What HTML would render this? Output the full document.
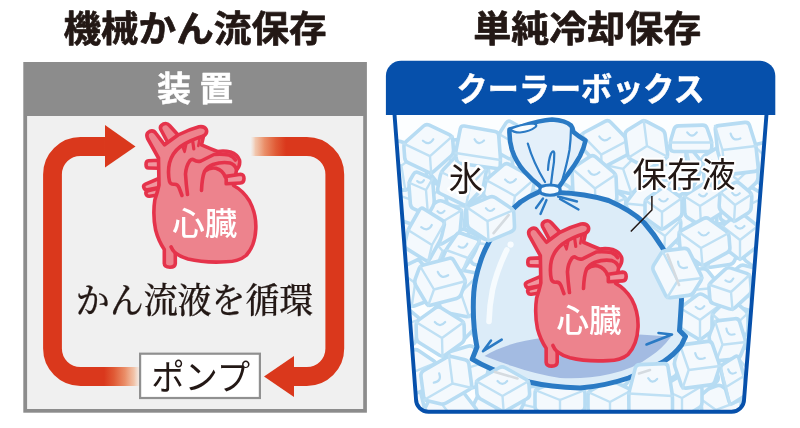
<!DOCTYPE html>
<html lang="ja"><head><meta charset="utf-8"><title>機械かん流保存と単純冷却保存</title>
<style>
html,body{margin:0;padding:0;background:#fff;}
body{width:800px;height:428px;overflow:hidden;font-family:"Liberation Sans","Noto Sans CJK JP",sans-serif;}
svg{display:block;will-change:transform;}
</style></head><body>
<svg width="800" height="428" viewBox="0 0 800 428">
<rect width="800" height="428" fill="#fff"/>
<rect x="23.3" y="62" width="343.6" height="350.7" fill="#8c8c8c"/>
<rect x="27.1" y="116" width="336.1" height="293" fill="#f0f0f0"/>
<text x="157.0" y="100.8" font-size="34" font-weight="700" fill="#fff" font-family='"Liberation Sans","Noto Sans CJK JP",sans-serif' letter-spacing="8.3" stroke="#fff" stroke-width="0.4" stroke-linejoin="round">装置</text>
<defs>
<linearGradient id="gr1" x1="250.5" x2="286" y1="0" y2="0" gradientUnits="userSpaceOnUse"><stop offset="0" stop-color="#f3d2bd" stop-opacity="0"/><stop offset="0.14" stop-color="#f1bfa2" stop-opacity="0.85"/><stop offset="0.4" stop-color="#ea8e68"/><stop offset="0.72" stop-color="#e05a35"/><stop offset="1" stop-color="#da381c"/></linearGradient>
<linearGradient id="gr2" x1="139" x2="104" y1="0" y2="0" gradientUnits="userSpaceOnUse"><stop offset="0" stop-color="#f3d2bd" stop-opacity="0.3"/><stop offset="0.14" stop-color="#f1bfa2" stop-opacity="0.9"/><stop offset="0.4" stop-color="#ea8e68"/><stop offset="0.72" stop-color="#e05a35"/><stop offset="1" stop-color="#da381c"/></linearGradient>
</defs>
<path d="M139 376.5 H80.5 A28 28 0 0 1 52.5 348.5 V174.5 A28 28 0 0 1 80.5 146.5 H106" fill="none" stroke="url(#gr2)" stroke-width="18.8"/>
<path d="M105 125 L135.5 146.5 L105 167.5 Z" fill="#da381c"/>
<path d="M250.5 146.5 H306.8 A28 28 0 0 1 334.8 174.5 V348.5 A28 28 0 0 1 306.8 376.5 H293" fill="none" stroke="url(#gr1)" stroke-width="18.8"/>
<path d="M294 356 L264 376.5 L294 397 Z" fill="#da381c"/>
<rect x="140.1" y="353.7" width="119.8" height="44.3" fill="#fff" stroke="#909090" stroke-width="2.2"/>
<text x="151.2" y="389.6" font-size="35" font-weight="400" fill="#231815" font-family='"Liberation Sans","Noto Sans CJK JP",sans-serif' textLength="99" lengthAdjust="spacingAndGlyphs" >ポンプ</text>
<text x="75.8" y="313.2" font-size="35" font-weight="500" fill="#231815" font-family='"Liberation Serif","Noto Serif CJK JP","Noto Serif CJK SC",serif' textLength="237.5" lengthAdjust="spacingAndGlyphs" stroke="#231815" stroke-width="0.25">かん流液を循環</text>
<text x="63.4" y="41.5" font-size="36.7" font-weight="700" fill="#231815" font-family='"Liberation Sans","Noto Sans CJK JP",sans-serif' textLength="263.2" lengthAdjust="spacingAndGlyphs" stroke="#231815" stroke-width="0.7" stroke-linejoin="round">機械かん流保存</text>
<text x="473.2" y="41.5" font-size="36.7" font-weight="700" fill="#231815" font-family='"Liberation Sans","Noto Sans CJK JP",sans-serif' textLength="228.2" lengthAdjust="spacingAndGlyphs" stroke="#231815" stroke-width="0.7" stroke-linejoin="round">単純冷却保存</text>
<defs><clipPath id="boxclip"><path d="M394.4 113 L416 399.2 A12.5 12.5 0 0 0 428.5 411.7 H731.6 A12.5 12.5 0 0 0 744.1 399.2 L766.6 113 Z"/></clipPath></defs>
<g clip-path="url(#boxclip)">
<rect x="390" y="110" width="380" height="305" fill="#fcfeff"/>
<g fill="#f4f9fd" stroke="#b7dcf3" stroke-width="3.6" stroke-linejoin="round" stroke-linecap="round"><path d="M743.9 393.9 Q745.2 390.6 748.6 390.1 L766.7 387.3 Q770.1 386.7 772.5 389.4 L783.9 402.1 Q786.3 404.7 785.0 407.9 L778.8 423.3 Q777.5 426.5 774.0 427.1 L755.9 429.9 Q752.5 430.4 750.1 427.8 L738.7 415.1 Q736.4 412.5 737.7 409.2 Z"/><path fill="none" stroke="#bfe0f4" stroke-width="2.4" d="M745.2 390.6 L761.3 408.6 L786.3 404.7 M761.3 408.6 L752.5 430.4"/></g>
<g fill="#f4f9fd" stroke="#b7dcf3" stroke-width="3.6" stroke-linejoin="round" stroke-linecap="round"><path d="M693.6 397.6 Q694.1 394.2 697.4 393.0 L716.6 385.8 Q719.9 384.6 722.7 386.7 L738.9 398.3 Q741.7 400.3 741.2 403.8 L738.4 422.2 Q737.8 425.6 734.5 426.8 L715.4 433.9 Q712.1 435.2 709.3 433.1 L693.1 421.5 Q690.3 419.4 690.8 416.0 Z"/><path fill="none" stroke="#bfe0f4" stroke-width="2.4" d="M694.1 394.2 L716.0 409.9 L741.7 400.3 M716.0 409.9 L712.1 435.2"/></g>
<g fill="#f4f9fd" stroke="#b7dcf3" stroke-width="3.6" stroke-linejoin="round" stroke-linecap="round"><path d="M650.6 395.3 Q650.3 391.8 653.3 389.9 L670.9 378.7 Q673.9 376.8 677.1 378.2 L696.5 386.7 Q699.7 388.1 700.0 391.6 L701.8 410.8 Q702.1 414.3 699.1 416.2 L681.5 427.4 Q678.5 429.3 675.3 427.9 L655.9 419.5 Q652.6 418.1 652.3 414.6 Z"/><path fill="none" stroke="#bfe0f4" stroke-width="2.4" d="M650.3 391.8 L676.2 403.1 L699.7 388.1 M676.2 403.1 L678.5 429.3"/></g>
<g fill="#f4f9fd" stroke="#b7dcf3" stroke-width="3.6" stroke-linejoin="round" stroke-linecap="round"><path d="M608.1 396.5 Q609.3 393.2 612.7 392.6 L630.4 389.3 Q633.8 388.6 636.3 391.1 L648.0 403.4 Q650.5 405.9 649.3 409.2 L643.7 424.5 Q642.5 427.7 639.1 428.4 L621.4 431.7 Q618.0 432.3 615.5 429.8 L603.8 417.6 Q601.3 415.1 602.5 411.8 Z"/><path fill="none" stroke="#bfe0f4" stroke-width="2.4" d="M609.3 393.2 L625.9 410.5 L650.5 405.9 M625.9 410.5 L618.0 432.3"/></g>
<g fill="#f4f9fd" stroke="#b7dcf3" stroke-width="3.6" stroke-linejoin="round" stroke-linecap="round"><path d="M558.0 397.9 Q557.8 394.4 560.8 392.6 L578.4 382.0 Q581.4 380.2 584.6 381.7 L603.4 390.4 Q606.6 391.9 606.8 395.4 L607.9 414.3 Q608.1 417.8 605.1 419.6 L587.5 430.2 Q584.5 432.0 581.3 430.5 L562.5 421.7 Q559.3 420.3 559.1 416.8 Z"/><path fill="none" stroke="#bfe0f4" stroke-width="2.4" d="M557.8 394.4 L583.0 406.1 L606.6 391.9 M583.0 406.1 L584.5 432.0"/></g>
<g fill="#f4f9fd" stroke="#b7dcf3" stroke-width="3.6" stroke-linejoin="round" stroke-linecap="round"><path d="M514.6 406.1 Q513.5 402.7 516.0 400.3 L528.4 388.2 Q530.9 385.8 534.3 386.5 L552.1 390.4 Q555.5 391.1 556.6 394.5 L561.7 410.1 Q562.8 413.5 560.3 415.9 L547.9 428.0 Q545.4 430.4 542.0 429.7 L524.2 425.8 Q520.8 425.1 519.7 421.7 Z"/><path fill="none" stroke="#bfe0f4" stroke-width="2.4" d="M513.5 402.7 L538.2 408.1 L555.5 391.1 M538.2 408.1 L545.4 430.4"/></g>
<g fill="#f4f9fd" stroke="#b7dcf3" stroke-width="3.6" stroke-linejoin="round" stroke-linecap="round"><path d="M481.9 387.5 Q483.4 384.3 486.9 384.0 L506.0 382.2 Q509.5 381.9 511.6 384.6 L522.7 398.7 Q524.8 401.4 523.3 404.6 L515.6 420.3 Q514.1 423.4 510.6 423.8 L491.5 425.6 Q488.0 425.9 485.9 423.1 L474.8 409.1 Q472.7 406.3 474.2 403.2 Z"/><path fill="none" stroke="#bfe0f4" stroke-width="2.4" d="M483.4 384.3 L498.7 403.9 L524.8 401.4 M498.7 403.9 L488.0 425.9"/></g>
<g fill="#f4f9fd" stroke="#b7dcf3" stroke-width="3.6" stroke-linejoin="round" stroke-linecap="round"><path d="M431.2 395.5 Q432.8 392.4 436.3 392.1 L457.8 390.1 Q461.3 389.8 463.5 392.5 L475.9 408.5 Q478.1 411.2 476.5 414.4 L467.8 432.1 Q466.3 435.3 462.8 435.6 L441.2 437.6 Q437.7 437.9 435.6 435.1 L423.1 419.2 Q421.0 416.5 422.5 413.3 Z"/><path fill="none" stroke="#bfe0f4" stroke-width="2.4" d="M432.8 392.4 L449.5 413.8 L478.1 411.2 M449.5 413.8 L437.7 437.9"/></g>
<g fill="#f4f9fd" stroke="#b7dcf3" stroke-width="3.6" stroke-linejoin="round" stroke-linecap="round"><path d="M378.6 402.5 Q377.7 399.1 380.4 396.9 L393.6 385.8 Q396.3 383.5 399.6 384.5 L416.9 389.5 Q420.2 390.5 421.0 393.9 L424.8 409.6 Q425.6 413.0 423.0 415.3 L409.8 426.4 Q407.1 428.6 403.8 427.7 L386.5 422.7 Q383.2 421.7 382.3 418.3 Z"/><path fill="none" stroke="#bfe0f4" stroke-width="2.4" d="M377.7 399.1 L401.7 406.1 L420.2 390.5 M401.7 406.1 L407.1 428.6"/></g>
<g fill="#f4f9fd" stroke="#b7dcf3" stroke-width="3.6" stroke-linejoin="round" stroke-linecap="round"><path d="M764.3 364.7 Q762.9 361.5 765.1 358.8 L777.7 343.6 Q780.0 340.9 783.5 341.3 L804.5 343.8 Q807.9 344.2 809.4 347.4 L817.3 365.0 Q818.8 368.2 816.5 370.9 L803.9 386.1 Q801.6 388.8 798.2 388.4 L777.2 385.9 Q773.7 385.4 772.2 382.3 Z"/><path fill="none" stroke="#bfe0f4" stroke-width="2.4" d="M762.9 361.5 L790.8 364.8 L807.9 344.2 M790.8 364.8 L801.6 388.8"/></g>
<g fill="#f4f9fd" stroke="#b7dcf3" stroke-width="3.6" stroke-linejoin="round" stroke-linecap="round"><path d="M729.7 353.9 Q730.9 350.7 734.4 350.1 L752.8 346.8 Q756.3 346.2 758.7 348.7 L770.8 361.6 Q773.2 364.1 771.9 367.4 L765.9 383.3 Q764.7 386.5 761.3 387.2 L742.8 390.4 Q739.4 391.0 737.0 388.5 L724.9 375.6 Q722.5 373.1 723.7 369.8 Z"/><path fill="none" stroke="#bfe0f4" stroke-width="2.4" d="M730.9 350.7 L747.8 368.6 L773.2 364.1 M747.8 368.6 L739.4 391.0"/></g>
<g fill="#f4f9fd" stroke="#b7dcf3" stroke-width="3.6" stroke-linejoin="round" stroke-linecap="round"><path d="M666.9 368.2 Q666.1 364.8 668.7 362.6 L683.8 349.9 Q686.5 347.6 689.9 348.6 L709.6 354.3 Q712.9 355.3 713.7 358.7 L718.1 376.8 Q718.9 380.2 716.2 382.4 L701.2 395.1 Q698.5 397.4 695.1 396.4 L675.4 390.7 Q672.1 389.7 671.2 386.3 Z"/><path fill="none" stroke="#bfe0f4" stroke-width="2.4" d="M666.1 364.8 L692.5 372.5 L712.9 355.3 M692.5 372.5 L698.5 397.4"/></g>
<g fill="#f4f9fd" stroke="#b7dcf3" stroke-width="3.6" stroke-linejoin="round" stroke-linecap="round"><path d="M633.7 354.4 Q633.8 350.9 636.9 349.4 L653.0 341.5 Q656.1 339.9 659.2 341.6 L674.6 350.4 Q677.7 352.2 677.5 355.7 L677.0 372.0 Q676.9 375.5 673.7 377.0 L657.7 384.9 Q654.6 386.5 651.5 384.8 L636.1 376.0 Q633.0 374.2 633.1 370.7 Z"/><path fill="none" stroke="#bfe0f4" stroke-width="2.4" d="M633.8 350.9 L655.3 363.2 L677.7 352.2 M655.3 363.2 L654.6 386.5"/></g>
<g fill="#f4f9fd" stroke="#b7dcf3" stroke-width="3.6" stroke-linejoin="round" stroke-linecap="round"><path d="M591.0 348.3 Q592.4 345.1 595.9 344.6 L616.3 341.9 Q619.7 341.5 622.0 344.1 L634.5 358.8 Q636.8 361.5 635.4 364.7 L627.9 381.8 Q626.5 385.0 623.0 385.5 L602.6 388.2 Q599.2 388.6 596.9 386.0 L584.4 371.3 Q582.1 368.7 583.5 365.5 Z"/><path fill="none" stroke="#bfe0f4" stroke-width="2.4" d="M592.4 345.1 L609.5 365.1 L636.8 361.5 M609.5 365.1 L599.2 388.6"/></g>
<g fill="#f4f9fd" stroke="#b7dcf3" stroke-width="3.6" stroke-linejoin="round" stroke-linecap="round"><path d="M541.0 354.9 Q542.1 351.5 545.5 350.8 L564.3 346.8 Q567.8 346.1 570.2 348.6 L583.2 361.4 Q585.7 363.8 584.6 367.2 L579.1 383.7 Q578.0 387.0 574.5 387.7 L555.7 391.7 Q552.3 392.4 549.8 389.9 L536.9 377.1 Q534.4 374.7 535.5 371.4 Z"/><path fill="none" stroke="#bfe0f4" stroke-width="2.4" d="M542.1 351.5 L560.0 369.3 L585.7 363.8 M560.0 369.3 L552.3 392.4"/></g>
<g fill="#f4f9fd" stroke="#b7dcf3" stroke-width="3.6" stroke-linejoin="round" stroke-linecap="round"><path d="M491.3 359.8 Q491.5 356.3 494.6 354.8 L511.1 346.9 Q514.2 345.3 517.2 347.1 L532.9 356.2 Q535.9 357.9 535.8 361.4 L535.0 378.0 Q534.9 381.5 531.7 383.1 L515.3 391.0 Q512.2 392.5 509.1 390.8 L493.5 381.7 Q490.5 379.9 490.6 376.4 Z"/><path fill="none" stroke="#bfe0f4" stroke-width="2.4" d="M491.5 356.3 L513.2 368.9 L535.9 357.9 M513.2 368.9 L512.2 392.5"/></g>
<g fill="#f4f9fd" stroke="#b7dcf3" stroke-width="3.6" stroke-linejoin="round" stroke-linecap="round"><path d="M446.2 356.0 Q446.9 352.6 450.3 351.6 L467.9 346.2 Q471.2 345.2 473.9 347.4 L487.6 358.7 Q490.3 360.9 489.5 364.3 L485.9 380.5 Q485.1 384.0 481.7 385.0 L464.1 390.3 Q460.8 391.3 458.1 389.1 L444.4 377.8 Q441.7 375.6 442.5 372.2 Z"/><path fill="none" stroke="#bfe0f4" stroke-width="2.4" d="M446.9 352.6 L466.0 368.3 L490.3 360.9 M466.0 368.3 L460.8 391.3"/></g>
<g fill="#f4f9fd" stroke="#b7dcf3" stroke-width="3.6" stroke-linejoin="round" stroke-linecap="round"><path d="M392.0 361.7 Q392.4 358.2 395.7 356.9 L412.6 350.1 Q415.9 348.8 418.8 350.7 L433.6 360.7 Q436.5 362.7 436.1 366.2 L434.1 382.6 Q433.7 386.1 430.5 387.4 L413.5 394.3 Q410.3 395.6 407.4 393.6 L392.5 383.6 Q389.6 381.7 390.0 378.2 Z"/><path fill="none" stroke="#bfe0f4" stroke-width="2.4" d="M392.4 358.2 L413.1 372.2 L436.5 362.7 M413.1 372.2 L410.3 395.6"/></g>
<g fill="#f4f9fd" stroke="#b7dcf3" stroke-width="3.6" stroke-linejoin="round" stroke-linecap="round"><path d="M740.9 326.4 Q739.9 323.1 742.4 320.7 L755.5 307.8 Q758.0 305.4 761.5 306.1 L780.4 310.3 Q783.8 311.0 784.9 314.3 L790.4 331.0 Q791.4 334.4 788.9 336.8 L775.8 349.7 Q773.3 352.1 769.8 351.4 L750.9 347.2 Q747.5 346.5 746.4 343.2 Z"/><path fill="none" stroke="#bfe0f4" stroke-width="2.4" d="M739.9 323.1 L765.7 328.7 L783.8 311.0 M765.7 328.7 L773.3 352.1"/></g>
<g fill="#f4f9fd" stroke="#b7dcf3" stroke-width="3.6" stroke-linejoin="round" stroke-linecap="round"><path d="M693.7 327.7 Q692.9 324.3 695.5 322.0 L708.4 310.7 Q711.1 308.4 714.4 309.3 L731.7 314.1 Q735.1 315.0 736.0 318.4 L740.1 334.1 Q740.9 337.4 738.3 339.7 L725.4 351.0 Q722.7 353.3 719.4 352.4 L702.1 347.7 Q698.7 346.7 697.8 343.3 Z"/><path fill="none" stroke="#bfe0f4" stroke-width="2.4" d="M692.9 324.3 L716.9 330.9 L735.1 315.0 M716.9 330.9 L722.7 353.3"/></g>
<g fill="#f4f9fd" stroke="#b7dcf3" stroke-width="3.6" stroke-linejoin="round" stroke-linecap="round"><path d="M649.9 331.1 Q648.9 327.8 651.4 325.3 L664.9 312.5 Q667.4 310.0 670.8 310.8 L689.9 315.1 Q693.3 315.9 694.4 319.2 L699.7 336.2 Q700.8 339.5 698.3 341.9 L684.8 354.8 Q682.3 357.3 678.9 356.5 L659.8 352.2 Q656.3 351.4 655.3 348.0 Z"/><path fill="none" stroke="#bfe0f4" stroke-width="2.4" d="M648.9 327.8 L674.8 333.6 L693.3 315.9 M674.8 333.6 L682.3 357.3"/></g>
<g fill="#f4f9fd" stroke="#b7dcf3" stroke-width="3.6" stroke-linejoin="round" stroke-linecap="round"><path d="M605.2 313.0 Q605.9 309.5 609.2 308.4 L628.2 302.0 Q631.5 300.8 634.2 303.0 L649.7 314.8 Q652.5 316.9 651.8 320.3 L648.5 338.2 Q647.9 341.6 644.6 342.8 L625.6 349.2 Q622.3 350.4 619.5 348.2 L604.0 336.4 Q601.2 334.3 601.9 330.9 Z"/><path fill="none" stroke="#bfe0f4" stroke-width="2.4" d="M605.9 309.5 L626.9 325.6 L652.5 316.9 M626.9 325.6 L622.3 350.4"/></g>
<g fill="#f4f9fd" stroke="#b7dcf3" stroke-width="3.6" stroke-linejoin="round" stroke-linecap="round"><path d="M562.5 324.7 Q562.0 321.2 564.9 319.2 L579.4 309.1 Q582.3 307.1 585.5 308.4 L602.4 314.9 Q605.7 316.2 606.2 319.7 L608.4 335.9 Q608.8 339.4 606.0 341.4 L591.4 351.5 Q588.5 353.5 585.3 352.2 L568.4 345.7 Q565.1 344.4 564.7 340.9 Z"/><path fill="none" stroke="#bfe0f4" stroke-width="2.4" d="M562.0 321.2 L585.4 330.3 L605.7 316.2 M585.4 330.3 L588.5 353.5"/></g>
<g fill="#f4f9fd" stroke="#b7dcf3" stroke-width="3.6" stroke-linejoin="round" stroke-linecap="round"><path d="M515.3 314.5 Q516.2 311.2 519.5 310.2 L539.5 304.7 Q542.9 303.8 545.5 306.0 L560.6 319.1 Q563.2 321.4 562.4 324.8 L557.7 343.0 Q556.8 346.4 553.4 347.3 L533.5 352.8 Q530.1 353.8 527.4 351.5 L512.4 338.4 Q509.7 336.2 510.6 332.8 Z"/><path fill="none" stroke="#bfe0f4" stroke-width="2.4" d="M516.2 311.2 L536.5 328.8 L563.2 321.4 M536.5 328.8 L530.1 353.8"/></g>
<g fill="#f4f9fd" stroke="#b7dcf3" stroke-width="3.6" stroke-linejoin="round" stroke-linecap="round"><path d="M476.0 315.0 Q476.6 311.6 480.0 310.4 L497.8 304.3 Q501.1 303.1 503.9 305.2 L518.5 316.3 Q521.3 318.4 520.6 321.8 L517.6 338.6 Q517.0 342.1 513.7 343.2 L495.9 349.4 Q492.5 350.5 489.8 348.4 L475.2 337.4 Q472.4 335.3 473.0 331.8 Z"/><path fill="none" stroke="#bfe0f4" stroke-width="2.4" d="M476.6 311.6 L496.8 326.8 L521.3 318.4 M496.8 326.8 L492.5 350.5"/></g>
<g fill="#f4f9fd" stroke="#b7dcf3" stroke-width="3.6" stroke-linejoin="round" stroke-linecap="round"><path d="M427.2 320.7 Q426.0 317.4 428.4 314.9 L440.6 302.3 Q443.1 299.8 446.5 300.5 L464.7 304.0 Q468.1 304.6 469.3 307.9 L474.9 323.7 Q476.1 327.0 473.7 329.5 L461.5 342.0 Q459.1 344.5 455.6 343.9 L437.4 340.4 Q434.0 339.7 432.8 336.4 Z"/><path fill="none" stroke="#bfe0f4" stroke-width="2.4" d="M426.0 317.4 L451.1 322.2 L468.1 304.6 M451.1 322.2 L459.1 344.5"/></g>
<g fill="#f4f9fd" stroke="#b7dcf3" stroke-width="3.6" stroke-linejoin="round" stroke-linecap="round"><path d="M374.3 314.0 Q375.1 310.6 378.4 309.6 L397.3 303.8 Q400.6 302.8 403.3 305.0 L418.0 317.1 Q420.7 319.3 419.9 322.7 L416.0 340.1 Q415.3 343.5 411.9 344.5 L393.1 350.3 Q389.7 351.3 387.0 349.1 L372.4 337.0 Q369.7 334.8 370.4 331.4 Z"/><path fill="none" stroke="#bfe0f4" stroke-width="2.4" d="M375.1 310.6 L395.2 327.0 L420.7 319.3 M395.2 327.0 L389.7 351.3"/></g>
<g fill="#f4f9fd" stroke="#b7dcf3" stroke-width="3.6" stroke-linejoin="round" stroke-linecap="round"><path d="M763.7 287.3 Q763.1 283.8 765.9 281.7 L782.2 269.8 Q785.1 267.8 788.4 269.0 L807.9 276.0 Q811.1 277.2 811.7 280.7 L814.7 299.3 Q815.3 302.7 812.5 304.8 L796.2 316.7 Q793.3 318.8 790.0 317.6 L770.5 310.5 Q767.2 309.3 766.7 305.9 Z"/><path fill="none" stroke="#bfe0f4" stroke-width="2.4" d="M763.1 283.8 L789.2 293.3 L811.1 277.2 M789.2 293.3 L793.3 318.8"/></g>
<g fill="#f4f9fd" stroke="#b7dcf3" stroke-width="3.6" stroke-linejoin="round" stroke-linecap="round"><path d="M723.2 284.4 Q722.3 281.0 725.0 278.7 L738.7 266.8 Q741.4 264.5 744.8 265.4 L763.1 270.4 Q766.5 271.4 767.4 274.8 L771.7 291.4 Q772.5 294.8 769.9 297.1 L756.1 309.1 Q753.5 311.4 750.1 310.4 L731.8 305.4 Q728.4 304.5 727.5 301.1 Z"/><path fill="none" stroke="#bfe0f4" stroke-width="2.4" d="M722.3 281.0 L747.4 287.9 L766.5 271.4 M747.4 287.9 L753.5 311.4"/></g>
<g fill="#f4f9fd" stroke="#b7dcf3" stroke-width="3.6" stroke-linejoin="round" stroke-linecap="round"><path d="M679.1 274.0 Q680.6 270.8 684.1 270.5 L702.5 268.7 Q706.0 268.3 708.1 271.1 L718.8 284.6 Q721.0 287.3 719.5 290.5 L712.1 305.6 Q710.6 308.7 707.1 309.1 L688.8 310.9 Q685.3 311.2 683.1 308.5 L672.5 295.0 Q670.3 292.2 671.8 289.1 Z"/><path fill="none" stroke="#bfe0f4" stroke-width="2.4" d="M680.6 270.8 L695.6 289.8 L721.0 287.3 M695.6 289.8 L685.3 311.2"/></g>
<g fill="#f4f9fd" stroke="#b7dcf3" stroke-width="3.6" stroke-linejoin="round" stroke-linecap="round"><path d="M622.4 287.2 Q621.0 284.0 623.2 281.3 L635.9 266.2 Q638.2 263.5 641.6 264.0 L662.5 266.6 Q666.0 267.0 667.4 270.2 L675.2 287.7 Q676.6 290.9 674.4 293.6 L661.7 308.6 Q659.4 311.3 656.0 310.9 L635.1 308.3 Q631.6 307.9 630.2 304.7 Z"/><path fill="none" stroke="#bfe0f4" stroke-width="2.4" d="M621.0 284.0 L648.8 287.4 L666.0 267.0 M648.8 287.4 L659.4 311.3"/></g>
<g fill="#f4f9fd" stroke="#b7dcf3" stroke-width="3.6" stroke-linejoin="round" stroke-linecap="round"><path d="M577.0 280.4 Q576.9 276.9 579.9 275.1 L597.3 265.1 Q600.4 263.3 603.5 264.8 L621.7 273.7 Q624.9 275.3 625.0 278.8 L625.7 297.3 Q625.9 300.8 622.8 302.5 L605.4 312.6 Q602.4 314.3 599.2 312.8 L581.0 303.9 Q577.9 302.4 577.7 298.9 Z"/><path fill="none" stroke="#bfe0f4" stroke-width="2.4" d="M576.9 276.9 L601.4 288.8 L624.9 275.3 M601.4 288.8 L602.4 314.3"/></g>
<g fill="#f4f9fd" stroke="#b7dcf3" stroke-width="3.6" stroke-linejoin="round" stroke-linecap="round"><path d="M530.4 281.7 Q530.5 278.2 533.6 276.6 L551.0 267.8 Q554.2 266.3 557.2 268.0 L574.1 277.5 Q577.2 279.2 577.1 282.7 L576.6 300.5 Q576.5 304.0 573.4 305.6 L556.0 314.3 Q552.9 315.9 549.8 314.2 L532.9 304.7 Q529.8 303.0 529.9 299.5 Z"/><path fill="none" stroke="#bfe0f4" stroke-width="2.4" d="M530.5 278.2 L553.5 291.1 L577.2 279.2 M553.5 291.1 L552.9 315.9"/></g>
<g fill="#f4f9fd" stroke="#b7dcf3" stroke-width="3.6" stroke-linejoin="round" stroke-linecap="round"><path d="M499.5 267.5 Q500.9 264.3 504.3 263.7 L525.7 260.6 Q529.2 260.0 531.5 262.7 L545.0 277.9 Q547.3 280.5 546.0 283.7 L538.5 301.9 Q537.1 305.2 533.7 305.7 L512.3 308.9 Q508.8 309.4 506.5 306.8 L493.0 291.5 Q490.7 288.9 492.0 285.7 Z"/><path fill="none" stroke="#bfe0f4" stroke-width="2.4" d="M500.9 264.3 L519.0 284.7 L547.3 280.5 M519.0 284.7 L508.8 309.4"/></g>
<g fill="#f4f9fd" stroke="#b7dcf3" stroke-width="3.6" stroke-linejoin="round" stroke-linecap="round"><path d="M434.6 290.5 Q433.5 287.2 436.0 284.7 L449.9 270.7 Q452.4 268.2 455.8 268.9 L476.2 273.1 Q479.6 273.8 480.8 277.1 L486.9 295.0 Q488.0 298.3 485.5 300.8 L471.6 314.8 Q469.1 317.2 465.7 316.5 L445.3 312.4 Q441.9 311.7 440.7 308.4 Z"/><path fill="none" stroke="#bfe0f4" stroke-width="2.4" d="M433.5 287.2 L460.7 292.7 L479.6 273.8 M460.7 292.7 L469.1 317.2"/></g>
<g fill="#f4f9fd" stroke="#b7dcf3" stroke-width="3.6" stroke-linejoin="round" stroke-linecap="round"><path d="M394.0 271.6 Q394.5 268.2 397.8 266.9 L415.6 260.3 Q418.8 259.1 421.7 261.1 L436.7 271.9 Q439.6 273.9 439.1 277.4 L436.5 294.4 Q436.0 297.9 432.7 299.1 L414.9 305.7 Q411.6 307.0 408.8 304.9 L393.7 294.1 Q390.9 292.1 391.4 288.6 Z"/><path fill="none" stroke="#bfe0f4" stroke-width="2.4" d="M394.5 268.2 L415.2 283.0 L439.6 273.9 M415.2 283.0 L411.6 307.0"/></g>
<g fill="#f4f9fd" stroke="#b7dcf3" stroke-width="3.6" stroke-linejoin="round" stroke-linecap="round"><path d="M746.6 238.4 Q747.2 235.0 750.5 233.8 L768.5 227.2 Q771.8 226.1 774.6 228.1 L789.7 239.2 Q792.5 241.2 791.9 244.7 L789.1 261.8 Q788.6 265.3 785.3 266.5 L767.2 273.0 Q764.0 274.2 761.1 272.1 L746.1 261.1 Q743.3 259.0 743.8 255.6 Z"/><path fill="none" stroke="#bfe0f4" stroke-width="2.4" d="M747.2 235.0 L767.9 250.1 L792.5 241.2 M767.9 250.1 L764.0 274.2"/></g>
<g fill="#f4f9fd" stroke="#b7dcf3" stroke-width="3.6" stroke-linejoin="round" stroke-linecap="round"><path d="M699.1 229.8 Q700.5 226.6 704.0 226.1 L722.8 223.4 Q726.3 222.9 728.6 225.6 L740.3 239.0 Q742.6 241.6 741.2 244.9 L734.5 260.8 Q733.2 264.0 729.7 264.5 L710.8 267.2 Q707.4 267.6 705.1 265.0 L693.4 251.6 Q691.1 248.9 692.4 245.7 Z"/><path fill="none" stroke="#bfe0f4" stroke-width="2.4" d="M700.5 226.6 L716.8 245.3 L742.6 241.6 M716.8 245.3 L707.4 267.6"/></g>
<g fill="#f4f9fd" stroke="#b7dcf3" stroke-width="3.6" stroke-linejoin="round" stroke-linecap="round"><path d="M659.4 236.5 Q659.5 233.1 662.7 231.5 L680.9 222.7 Q684.0 221.2 687.1 222.9 L704.4 233.0 Q707.5 234.8 707.3 238.3 L706.5 256.8 Q706.4 260.2 703.2 261.8 L685.0 270.6 Q681.9 272.1 678.8 270.4 L661.5 260.3 Q658.4 258.5 658.6 255.0 Z"/><path fill="none" stroke="#bfe0f4" stroke-width="2.4" d="M659.5 233.1 L682.9 246.6 L707.5 234.8 M682.9 246.6 L681.9 272.1"/></g>
<g fill="#f4f9fd" stroke="#b7dcf3" stroke-width="3.6" stroke-linejoin="round" stroke-linecap="round"><path d="M601.0 244.3 Q599.5 241.2 601.7 238.5 L614.2 223.0 Q616.4 220.3 619.9 220.7 L641.0 223.0 Q644.5 223.3 646.0 226.5 L654.2 244.1 Q655.7 247.2 653.5 250.0 L641.0 265.4 Q638.8 268.1 635.3 267.7 L614.2 265.5 Q610.7 265.1 609.2 261.9 Z"/><path fill="none" stroke="#bfe0f4" stroke-width="2.4" d="M599.5 241.2 L627.6 244.2 L644.5 223.3 M627.6 244.2 L638.8 268.1"/></g>
<g fill="#f4f9fd" stroke="#b7dcf3" stroke-width="3.6" stroke-linejoin="round" stroke-linecap="round"><path d="M563.0 239.4 Q563.9 236.0 567.2 235.0 L584.7 230.2 Q588.1 229.3 590.7 231.6 L603.8 243.0 Q606.5 245.3 605.6 248.7 L601.5 264.5 Q600.6 267.9 597.3 268.8 L579.8 273.6 Q576.4 274.6 573.8 272.3 L560.7 260.9 Q558.0 258.6 558.9 255.2 Z"/><path fill="none" stroke="#bfe0f4" stroke-width="2.4" d="M563.9 236.0 L582.3 251.9 L606.5 245.3 M582.3 251.9 L576.4 274.6"/></g>
<g fill="#f4f9fd" stroke="#b7dcf3" stroke-width="3.6" stroke-linejoin="round" stroke-linecap="round"><path d="M526.6 238.1 Q527.9 234.8 531.4 234.3 L550.3 231.2 Q553.7 230.6 556.1 233.2 L568.3 246.5 Q570.6 249.0 569.4 252.3 L563.0 268.5 Q561.7 271.7 558.3 272.3 L539.4 275.4 Q535.9 276.0 533.5 273.4 L521.4 260.1 Q519.0 257.5 520.3 254.3 Z"/><path fill="none" stroke="#bfe0f4" stroke-width="2.4" d="M527.9 234.8 L544.8 253.3 L570.6 249.0 M544.8 253.3 L535.9 276.0"/></g>
<g fill="#f4f9fd" stroke="#b7dcf3" stroke-width="3.6" stroke-linejoin="round" stroke-linecap="round"><path d="M463.7 244.0 Q462.3 240.7 464.7 238.1 L477.3 223.7 Q479.6 221.1 483.1 221.6 L503.3 224.5 Q506.7 225.0 508.1 228.2 L515.3 245.4 Q516.6 248.6 514.3 251.2 L501.7 265.6 Q499.3 268.2 495.9 267.7 L475.7 264.8 Q472.2 264.3 470.9 261.1 Z"/><path fill="none" stroke="#bfe0f4" stroke-width="2.4" d="M462.3 240.7 L489.5 244.7 L506.7 225.0 M489.5 244.7 L499.3 268.2"/></g>
<g fill="#f4f9fd" stroke="#b7dcf3" stroke-width="3.6" stroke-linejoin="round" stroke-linecap="round"><path d="M423.4 234.0 Q424.8 230.7 428.3 230.2 L449.4 227.1 Q452.8 226.6 455.1 229.2 L468.4 244.2 Q470.7 246.9 469.4 250.1 L461.9 268.0 Q460.6 271.3 457.1 271.8 L436.0 274.9 Q432.6 275.4 430.2 272.8 L417.0 257.7 Q414.7 255.1 416.0 251.9 Z"/><path fill="none" stroke="#bfe0f4" stroke-width="2.4" d="M424.8 230.7 L442.7 251.0 L470.7 246.9 M442.7 251.0 L432.6 275.4"/></g>
<g fill="#f4f9fd" stroke="#b7dcf3" stroke-width="3.6" stroke-linejoin="round" stroke-linecap="round"><path d="M380.8 232.1 Q381.0 228.6 384.1 227.1 L401.8 218.6 Q405.0 217.1 408.0 218.9 L424.8 228.8 Q427.8 230.5 427.7 234.0 L426.8 251.9 Q426.6 255.4 423.5 256.9 L405.8 265.4 Q402.6 266.9 399.6 265.1 L382.8 255.3 Q379.8 253.5 379.9 250.0 Z"/><path fill="none" stroke="#bfe0f4" stroke-width="2.4" d="M381.0 228.6 L403.8 242.0 L427.8 230.5 M403.8 242.0 L402.6 266.9"/></g>
<g fill="#f4f9fd" stroke="#b7dcf3" stroke-width="3.6" stroke-linejoin="round" stroke-linecap="round"><path d="M765.6 198.9 Q764.8 195.5 767.5 193.3 L782.9 180.6 Q785.5 178.4 788.9 179.4 L808.7 185.3 Q812.1 186.3 812.9 189.7 L817.1 208.0 Q817.9 211.4 815.2 213.6 L799.8 226.3 Q797.1 228.6 793.8 227.6 L774.0 221.6 Q770.6 220.6 769.8 217.2 Z"/><path fill="none" stroke="#bfe0f4" stroke-width="2.4" d="M764.8 195.5 L791.3 203.5 L812.1 186.3 M791.3 203.5 L797.1 228.6"/></g>
<g fill="#f4f9fd" stroke="#b7dcf3" stroke-width="3.6" stroke-linejoin="round" stroke-linecap="round"><path d="M720.7 198.2 Q720.8 194.7 723.9 193.2 L741.1 184.7 Q744.2 183.2 747.3 184.9 L763.8 194.4 Q766.8 196.1 766.7 199.6 L766.1 217.1 Q766.0 220.6 762.8 222.1 L745.6 230.5 Q742.5 232.1 739.5 230.4 L723.0 220.9 Q719.9 219.2 720.0 215.7 Z"/><path fill="none" stroke="#bfe0f4" stroke-width="2.4" d="M720.8 194.7 L743.4 207.6 L766.8 196.1 M743.4 207.6 L742.5 232.1"/></g>
<g fill="#f4f9fd" stroke="#b7dcf3" stroke-width="3.6" stroke-linejoin="round" stroke-linecap="round"><path d="M668.8 204.6 Q668.8 201.1 671.9 199.5 L689.5 189.9 Q692.6 188.3 695.7 189.9 L713.5 199.2 Q716.6 200.8 716.6 204.3 L716.8 222.7 Q716.8 226.2 713.7 227.9 L696.1 237.4 Q693.0 239.1 689.9 237.4 L672.1 228.1 Q669.0 226.5 669.0 223.0 Z"/><path fill="none" stroke="#bfe0f4" stroke-width="2.4" d="M668.8 201.1 L692.8 213.7 L716.6 200.8 M692.8 213.7 L693.0 239.1"/></g>
<g fill="#f4f9fd" stroke="#b7dcf3" stroke-width="3.6" stroke-linejoin="round" stroke-linecap="round"><path d="M626.7 206.7 Q625.1 203.5 627.3 200.8 L638.7 186.0 Q640.9 183.3 644.4 183.6 L664.3 185.4 Q667.8 185.7 669.4 188.9 L677.4 205.3 Q679.0 208.4 676.8 211.2 L665.4 225.9 Q663.2 228.7 659.7 228.3 L639.8 226.5 Q636.3 226.2 634.7 223.1 Z"/><path fill="none" stroke="#bfe0f4" stroke-width="2.4" d="M625.1 203.5 L652.1 206.0 L667.8 185.7 M652.1 206.0 L663.2 228.7"/></g>
<g fill="#f4f9fd" stroke="#b7dcf3" stroke-width="3.6" stroke-linejoin="round" stroke-linecap="round"><path d="M576.7 197.4 Q577.0 193.9 580.2 192.6 L599.7 184.3 Q602.9 182.9 605.8 184.8 L623.3 196.1 Q626.2 198.1 625.9 201.5 L624.0 220.7 Q623.6 224.2 620.4 225.5 L601.0 233.8 Q597.7 235.2 594.8 233.3 L577.4 222.0 Q574.4 220.1 574.8 216.6 Z"/><path fill="none" stroke="#bfe0f4" stroke-width="2.4" d="M577.0 193.9 L600.3 209.1 L626.2 198.1 M600.3 209.1 L597.7 235.2"/></g>
<g fill="#f4f9fd" stroke="#b7dcf3" stroke-width="3.6" stroke-linejoin="round" stroke-linecap="round"><path d="M527.3 198.4 Q526.6 194.9 529.3 192.7 L545.1 180.0 Q547.8 177.8 551.1 178.8 L571.2 185.1 Q574.6 186.1 575.3 189.5 L579.4 208.2 Q580.1 211.6 577.4 213.8 L561.6 226.6 Q558.9 228.8 555.5 227.7 L535.4 221.5 Q532.1 220.4 531.4 217.0 Z"/><path fill="none" stroke="#bfe0f4" stroke-width="2.4" d="M526.6 194.9 L553.3 203.3 L574.6 186.1 M553.3 203.3 L558.9 228.8"/></g>
<g fill="#f4f9fd" stroke="#b7dcf3" stroke-width="3.6" stroke-linejoin="round" stroke-linecap="round"><path d="M484.0 201.0 Q483.7 197.5 486.7 195.7 L502.1 185.9 Q505.0 184.0 508.2 185.4 L525.2 192.9 Q528.4 194.3 528.7 197.8 L530.1 214.5 Q530.4 218.0 527.5 219.9 L512.1 229.6 Q509.1 231.5 505.9 230.1 L489.0 222.7 Q485.8 221.3 485.5 217.8 Z"/><path fill="none" stroke="#bfe0f4" stroke-width="2.4" d="M483.7 197.5 L507.1 207.8 L528.4 194.3 M507.1 207.8 L509.1 231.5"/></g>
<g fill="#f4f9fd" stroke="#b7dcf3" stroke-width="3.6" stroke-linejoin="round" stroke-linecap="round"><path d="M440.7 207.3 Q439.2 204.1 441.4 201.4 L453.9 185.7 Q456.1 183.0 459.6 183.3 L481.0 185.5 Q484.4 185.8 485.9 189.0 L494.4 206.7 Q495.9 209.8 493.7 212.6 L481.2 228.3 Q479.0 231.0 475.6 230.6 L454.2 228.5 Q450.7 228.1 449.2 225.0 Z"/><path fill="none" stroke="#bfe0f4" stroke-width="2.4" d="M439.2 204.1 L467.6 207.0 L484.4 185.8 M467.6 207.0 L479.0 231.0"/></g>
<g fill="#f4f9fd" stroke="#b7dcf3" stroke-width="3.6" stroke-linejoin="round" stroke-linecap="round"><path d="M395.6 197.6 Q395.0 194.1 397.8 192.0 L414.3 179.4 Q417.0 177.3 420.4 178.4 L440.6 185.3 Q443.9 186.4 444.6 189.9 L448.1 209.0 Q448.7 212.4 446.0 214.5 L429.5 227.1 Q426.7 229.2 423.4 228.1 L403.1 221.2 Q399.8 220.1 399.2 216.7 Z"/><path fill="none" stroke="#bfe0f4" stroke-width="2.4" d="M395.0 194.1 L421.9 203.3 L443.9 186.4 M421.9 203.3 L426.7 229.2"/></g>
<g fill="#f4f9fd" stroke="#b7dcf3" stroke-width="3.6" stroke-linejoin="round" stroke-linecap="round"><path d="M752.2 148.3 Q753.3 144.9 756.7 144.2 L777.1 139.8 Q780.5 139.0 783.0 141.5 L797.1 155.3 Q799.7 157.7 798.6 161.1 L792.7 179.0 Q791.6 182.4 788.2 183.1 L767.8 187.5 Q764.4 188.3 761.9 185.8 L747.8 172.0 Q745.3 169.5 746.4 166.2 Z"/><path fill="none" stroke="#bfe0f4" stroke-width="2.4" d="M753.3 144.9 L772.5 163.6 L799.7 157.7 M772.5 163.6 L764.4 188.3"/></g>
<g fill="#f4f9fd" stroke="#b7dcf3" stroke-width="3.6" stroke-linejoin="round" stroke-linecap="round"><path d="M702.7 160.2 Q702.5 156.7 705.5 154.9 L721.6 145.0 Q724.6 143.1 727.8 144.6 L745.2 152.5 Q748.4 154.0 748.7 157.5 L749.9 174.9 Q750.1 178.4 747.1 180.2 L731.0 190.1 Q728.0 191.9 724.8 190.5 L707.4 182.5 Q704.2 181.1 704.0 177.6 Z"/><path fill="none" stroke="#bfe0f4" stroke-width="2.4" d="M702.5 156.7 L726.3 167.5 L748.4 154.0 M726.3 167.5 L728.0 191.9"/></g>
<g fill="#f4f9fd" stroke="#b7dcf3" stroke-width="3.6" stroke-linejoin="round" stroke-linecap="round"><path d="M659.0 150.4 Q660.4 147.3 663.9 146.9 L684.0 144.7 Q687.5 144.3 689.7 147.1 L701.6 161.7 Q703.8 164.4 702.3 167.6 L694.5 184.3 Q693.0 187.4 689.5 187.8 L669.4 190.0 Q666.0 190.4 663.8 187.6 L651.9 173.0 Q649.7 170.3 651.2 167.1 Z"/><path fill="none" stroke="#bfe0f4" stroke-width="2.4" d="M660.4 147.3 L676.7 167.4 L703.8 164.4 M676.7 167.4 L666.0 190.4"/></g>
<g fill="#f4f9fd" stroke="#b7dcf3" stroke-width="3.6" stroke-linejoin="round" stroke-linecap="round"><path d="M596.3 166.3 Q595.2 163.0 597.7 160.5 L612.1 146.1 Q614.6 143.6 618.0 144.3 L639.1 148.7 Q642.5 149.4 643.7 152.7 L649.9 171.3 Q651.0 174.6 648.5 177.0 L634.1 191.4 Q631.6 193.9 628.2 193.2 L607.1 188.8 Q603.7 188.1 602.6 184.8 Z"/><path fill="none" stroke="#bfe0f4" stroke-width="2.4" d="M595.2 163.0 L623.1 168.8 L642.5 149.4 M623.1 168.8 L631.6 193.9"/></g>
<g fill="#f4f9fd" stroke="#b7dcf3" stroke-width="3.6" stroke-linejoin="round" stroke-linecap="round"><path d="M561.4 160.7 Q561.6 157.3 564.8 155.8 L581.8 148.3 Q585.0 146.9 587.9 148.7 L603.4 158.4 Q606.4 160.3 606.1 163.8 L604.8 180.6 Q604.5 184.1 601.3 185.5 L584.4 193.0 Q581.2 194.4 578.2 192.6 L562.7 182.9 Q559.7 181.0 560.0 177.5 Z"/><path fill="none" stroke="#bfe0f4" stroke-width="2.4" d="M561.6 157.3 L583.1 170.7 L606.4 160.3 M583.1 170.7 L581.2 194.4"/></g>
<g fill="#f4f9fd" stroke="#b7dcf3" stroke-width="3.6" stroke-linejoin="round" stroke-linecap="round"><path d="M520.3 172.2 Q518.8 169.0 520.9 166.3 L531.4 153.1 Q533.5 150.4 537.0 150.8 L554.9 152.5 Q558.4 152.9 559.9 156.0 L567.0 170.8 Q568.6 173.9 566.4 176.7 L556.0 189.8 Q553.8 192.5 550.3 192.2 L532.4 190.4 Q528.9 190.1 527.4 186.9 Z"/><path fill="none" stroke="#bfe0f4" stroke-width="2.4" d="M518.8 169.0 L543.7 171.5 L558.4 152.9 M543.7 171.5 L553.8 192.5"/></g>
<g fill="#f4f9fd" stroke="#b7dcf3" stroke-width="3.6" stroke-linejoin="round" stroke-linecap="round"><path d="M462.9 159.7 Q462.4 156.3 465.2 154.2 L481.7 142.4 Q484.6 140.4 487.8 141.6 L507.3 148.9 Q510.6 150.1 511.1 153.6 L513.9 172.3 Q514.4 175.7 511.6 177.8 L495.1 189.6 Q492.3 191.6 489.0 190.4 L469.5 183.1 Q466.2 181.9 465.7 178.4 Z"/><path fill="none" stroke="#bfe0f4" stroke-width="2.4" d="M462.4 156.3 L488.4 166.0 L510.6 150.1 M488.4 166.0 L492.3 191.6"/></g>
<g fill="#f4f9fd" stroke="#b7dcf3" stroke-width="3.6" stroke-linejoin="round" stroke-linecap="round"><path d="M434.4 144.9 Q435.9 141.8 439.4 141.4 L461.1 139.3 Q464.6 138.9 466.8 141.7 L479.4 157.7 Q481.6 160.4 480.1 163.6 L471.4 181.5 Q469.9 184.7 466.4 185.0 L444.7 187.2 Q441.2 187.5 439.0 184.8 L426.4 168.8 Q424.2 166.1 425.7 162.9 Z"/><path fill="none" stroke="#bfe0f4" stroke-width="2.4" d="M435.9 141.8 L452.9 163.2 L481.6 160.4 M452.9 163.2 L441.2 187.5"/></g>
<g fill="#f4f9fd" stroke="#b7dcf3" stroke-width="3.6" stroke-linejoin="round" stroke-linecap="round"><path d="M376.1 159.6 Q375.5 156.2 378.4 154.1 L394.5 142.4 Q397.3 140.3 400.6 141.5 L419.8 148.5 Q423.1 149.7 423.7 153.2 L426.6 171.5 Q427.2 175.0 424.4 177.1 L408.3 188.8 Q405.4 190.9 402.1 189.7 L382.9 182.7 Q379.6 181.5 379.0 178.0 Z"/><path fill="none" stroke="#bfe0f4" stroke-width="2.4" d="M375.5 156.2 L401.4 165.6 L423.1 149.7 M401.4 165.6 L405.4 190.9"/></g>
<g fill="#f4f9fd" stroke="#b7dcf3" stroke-width="3.6" stroke-linejoin="round" stroke-linecap="round"><path d="M440.3 175.4 Q441.0 172.0 443.4 169.5 L455.6 156.5 Q458.0 154.0 461.2 155.5 L483.8 166.5 Q487.0 168.0 486.3 171.4 L483.7 184.6 Q483.0 188.0 480.6 190.5 L468.4 203.5 Q466.0 206.0 462.8 204.5 L440.2 193.5 Q437.0 192.0 437.7 188.6 Z"/><path fill="none" stroke="#bfe0f4" stroke-width="2.4" d="M441.0 172.0 L470.0 186.0 L487.0 168.0 M470.0 186.0 L466.0 206.0"/></g>
<g fill="#f4f9fd" stroke="#b7dcf3" stroke-width="3.6" stroke-linejoin="round" stroke-linecap="round"><path d="M498.6 137.5 Q499.0 134.0 500.9 131.1 L506.1 122.9 Q508.0 120.0 511.0 121.7 L519.0 126.3 Q522.0 128.0 521.6 131.5 L520.4 142.5 Q520.0 146.0 518.1 148.9 L512.9 157.1 Q511.0 160.0 508.0 158.3 L500.0 153.7 Q497.0 152.0 497.4 148.5 Z"/><path fill="none" stroke="#bfe0f4" stroke-width="2.4" d="M499.0 134.0 L513.0 142.0 L522.0 128.0 M513.0 142.0 L511.0 160.0"/></g>
<g fill="#f4f9fd" stroke="#b7dcf3" stroke-width="3.6" stroke-linejoin="round" stroke-linecap="round"><path d="M650.0 168.5 Q650.0 165.0 649.2 161.6 L646.8 150.4 Q646.0 147.0 649.5 147.0 L682.5 147.0 Q686.0 147.0 686.0 150.5 L686.0 158.5 Q686.0 162.0 686.8 165.4 L689.2 176.6 Q690.0 180.0 686.5 180.0 L653.5 180.0 Q650.0 180.0 650.0 176.5 Z"/><path fill="none" stroke="#bfe0f4" stroke-width="2.4" d="M650.0 165.0 L690.0 165.0 L686.0 147.0 M690.0 165.0 L690.0 180.0"/></g>
<g fill="#f4f9fd" stroke="#b7dcf3" stroke-width="3.6" stroke-linejoin="round" stroke-linecap="round"><path d="M719.0 169.5 Q719.0 166.0 721.5 163.6 L736.5 149.4 Q739.0 147.0 741.8 149.1 L755.2 158.9 Q758.0 161.0 758.0 164.5 L758.0 177.5 Q758.0 181.0 755.5 183.4 L740.5 197.6 Q738.0 200.0 735.2 197.9 L721.8 188.1 Q719.0 186.0 719.0 182.5 Z"/><path fill="none" stroke="#bfe0f4" stroke-width="2.4" d="M719.0 166.0 L738.0 180.0 L758.0 161.0 M738.0 180.0 L738.0 200.0"/></g>
<g fill="#f4f9fd" stroke="#b7dcf3" stroke-width="3.6" stroke-linejoin="round" stroke-linecap="round"><path d="M646.8 226.5 Q647.0 223.0 649.5 220.5 L660.5 209.5 Q663.0 207.0 665.8 209.0 L678.2 218.0 Q681.0 220.0 680.8 223.5 L680.2 233.5 Q680.0 237.0 677.5 239.5 L666.5 250.5 Q664.0 253.0 661.2 251.0 L648.8 242.0 Q646.0 240.0 646.2 236.5 Z"/><path fill="none" stroke="#bfe0f4" stroke-width="2.4" d="M647.0 223.0 L665.0 236.0 L681.0 220.0 M665.0 236.0 L664.0 253.0"/></g>
<g fill="#f4f9fd" stroke="#b7dcf3" stroke-width="3.6" stroke-linejoin="round" stroke-linecap="round"><path d="M722.0 229.5 Q722.0 226.0 724.8 223.9 L737.2 214.1 Q740.0 212.0 742.8 214.1 L755.2 223.9 Q758.0 226.0 758.0 229.5 L758.0 242.5 Q758.0 246.0 755.2 248.1 L742.8 257.9 Q740.0 260.0 737.2 257.9 L724.8 248.1 Q722.0 246.0 722.0 242.5 Z"/><path fill="none" stroke="#bfe0f4" stroke-width="2.4" d="M722.0 226.0 L740.0 240.0 L758.0 226.0 M740.0 240.0 L740.0 260.0"/><path fill="none" stroke-width="2.2" d="M735.5 226.0 Q740.0 231.4 744.5 226.0"/></g>
<g fill="#f4f9fd" stroke="#b7dcf3" stroke-width="3.6" stroke-linejoin="round" stroke-linecap="round"><path d="M419.7 215.5 Q420.0 212.0 423.0 210.2 L437.0 201.8 Q440.0 200.0 443.2 201.4 L458.8 208.6 Q462.0 210.0 461.7 213.5 L460.3 229.5 Q460.0 233.0 457.0 234.8 L443.0 243.2 Q440.0 245.0 436.8 243.6 L421.2 236.4 Q418.0 235.0 418.3 231.5 Z"/><path fill="none" stroke="#bfe0f4" stroke-width="2.4" d="M420.0 212.0 L442.0 222.0 L462.0 210.0 M442.0 222.0 L440.0 245.0"/><path fill="none" stroke-width="2.2" d="M437.5 211.2 Q441.2 215.2 444.5 210.8"/></g>
<g fill="#f4f9fd" stroke="#b7dcf3" stroke-width="3.6" stroke-linejoin="round" stroke-linecap="round"><path d="M645.0 203.5 Q645.0 200.0 647.9 198.0 L662.1 188.0 Q665.0 186.0 667.9 188.0 L679.1 196.0 Q682.0 198.0 682.0 201.5 L682.0 212.5 Q682.0 216.0 679.1 218.0 L664.9 228.0 Q662.0 230.0 659.1 228.0 L647.9 220.0 Q645.0 218.0 645.0 214.5 Z"/><path fill="none" stroke="#bfe0f4" stroke-width="2.4" d="M645.0 200.0 L662.0 212.0 L682.0 198.0 M662.0 212.0 L662.0 230.0"/><path fill="none" stroke-width="2.2" d="M659.3 199.2 Q663.8 204.0 667.7 198.8"/></g>
<g fill="#f4f9fd" stroke="#b7dcf3" stroke-width="3.6" stroke-linejoin="round" stroke-linecap="round"><path d="M684.2 199.5 Q684.0 196.0 687.0 194.1 L703.0 183.9 Q706.0 182.0 709.0 183.9 L719.0 190.1 Q722.0 192.0 722.2 195.5 L722.8 208.5 Q723.0 212.0 720.0 213.9 L704.0 224.1 Q701.0 226.0 698.0 224.1 L688.0 217.9 Q685.0 216.0 684.8 212.5 Z"/><path fill="none" stroke="#bfe0f4" stroke-width="2.4" d="M684.0 196.0 L700.0 206.0 L722.0 192.0 M700.0 206.0 L701.0 226.0"/><path fill="none" stroke-width="2.2" d="M699.1 194.4 Q703.5 198.7 706.9 193.6"/></g>
<g fill="#f4f9fd" stroke="#b7dcf3" stroke-width="3.6" stroke-linejoin="round" stroke-linecap="round"><path d="M680.0 311.5 Q680.0 308.0 682.8 305.9 L697.2 295.1 Q700.0 293.0 703.0 294.8 L717.0 303.2 Q720.0 305.0 720.0 308.5 L720.0 321.5 Q720.0 325.0 717.2 327.1 L702.8 337.9 Q700.0 340.0 697.0 338.2 L683.0 329.8 Q680.0 328.0 680.0 324.5 Z"/><path fill="none" stroke="#bfe0f4" stroke-width="2.4" d="M680.0 308.0 L700.0 320.0 L720.0 305.0 M700.0 320.0 L700.0 340.0"/><path fill="none" stroke-width="2.2" d="M695.7 306.8 Q700.4 311.7 704.3 306.2"/></g>
<g fill="#f4f9fd" stroke="#b7dcf3" stroke-width="3.6" stroke-linejoin="round" stroke-linecap="round"><path d="M712.0 317.5 Q712.0 314.0 714.5 311.6 L727.5 299.4 Q730.0 297.0 732.6 299.3 L745.4 310.7 Q748.0 313.0 748.0 316.5 L748.0 329.5 Q748.0 333.0 745.5 335.4 L732.5 347.6 Q730.0 350.0 727.4 347.7 L714.6 336.3 Q712.0 334.0 712.0 330.5 Z"/><path fill="none" stroke="#bfe0f4" stroke-width="2.4" d="M712.0 314.0 L730.0 330.0 L748.0 313.0 M730.0 330.0 L730.0 350.0"/></g>
<g fill="#f4f9fd" stroke="#b7dcf3" stroke-width="3.6" stroke-linejoin="round" stroke-linecap="round"><path d="M535.0 393.5 Q535.0 390.0 538.2 388.7 L556.8 381.3 Q560.0 380.0 563.2 381.3 L581.8 388.7 Q585.0 390.0 585.0 393.5 L585.0 406.5 Q585.0 410.0 581.8 411.3 L563.2 418.7 Q560.0 420.0 556.8 418.7 L538.2 411.3 Q535.0 410.0 535.0 406.5 Z"/><path fill="none" stroke="#bfe0f4" stroke-width="2.4" d="M535.0 390.0 L560.0 400.0 L585.0 390.0 M560.0 400.0 L560.0 420.0"/></g>
<g fill="#f4f9fd" stroke="#b7dcf3" stroke-width="3.6" stroke-linejoin="round" stroke-linecap="round"><path d="M588.0 395.5 Q588.0 392.0 591.1 390.3 L606.9 381.7 Q610.0 380.0 613.2 381.4 L628.8 388.6 Q632.0 390.0 632.0 393.5 L632.0 406.5 Q632.0 410.0 628.9 411.7 L613.1 420.3 Q610.0 422.0 606.8 420.6 L591.2 413.4 Q588.0 412.0 588.0 408.5 Z"/><path fill="none" stroke="#bfe0f4" stroke-width="2.4" d="M588.0 392.0 L610.0 402.0 L632.0 390.0 M610.0 402.0 L610.0 422.0"/></g>
<g fill="#f4f9fd" stroke="#b7dcf3" stroke-width="3.6" stroke-linejoin="round" stroke-linecap="round"><path d="M660.0 391.5 Q660.0 388.0 663.0 386.2 L677.0 377.8 Q680.0 376.0 683.2 377.4 L698.8 384.6 Q702.0 386.0 702.0 389.5 L702.0 402.5 Q702.0 406.0 699.0 407.8 L685.0 416.2 Q682.0 418.0 678.8 416.6 L663.2 409.4 Q660.0 408.0 660.0 404.5 Z"/><path fill="none" stroke="#bfe0f4" stroke-width="2.4" d="M660.0 388.0 L682.0 398.0 L702.0 386.0 M682.0 398.0 L682.0 418.0"/></g>
<g fill="#f4f9fd" stroke="#b7dcf3" stroke-width="3.6" stroke-linejoin="round" stroke-linecap="round"><path d="M403.9 147.2 Q403.7 143.7 406.3 141.4 L423.6 126.0 Q426.2 123.7 429.4 125.2 L449.3 134.7 Q452.5 136.2 452.7 139.7 L453.5 150.2 Q453.7 153.7 451.1 156.0 L433.8 171.4 Q431.2 173.7 428.0 172.2 L408.1 162.7 Q404.9 161.2 404.7 157.7 Z"/><path fill="none" stroke="#bfe0f4" stroke-width="2.4" d="M403.7 143.7 L430.0 156.2 L452.5 136.2 M430.0 156.2 L431.2 173.7"/><path fill="none" stroke-width="2.2" d="M422.9 140.7 Q429.1 146.2 433.3 139.2"/></g>
<g fill="#f4f9fd" stroke="#b7dcf3" stroke-width="3.6" stroke-linejoin="round" stroke-linecap="round"><path d="M460.3 128.9 Q461.0 125.5 464.4 126.1 L495.1 131.4 Q498.5 132.0 498.7 135.5 L500.3 156.5 Q500.5 160.0 500.3 163.5 L500.2 165.5 Q500.0 169.0 496.5 168.5 L460.5 163.5 Q457.0 163.0 456.5 159.5 L456.0 156.5 Q455.5 153.0 456.2 149.6 Z"/><path fill="none" stroke="#bfe0f4" stroke-width="2.4" d="M455.5 153.0 L500.5 160.0 "/><path fill="none" stroke-width="2.2" transform="rotate(8 479 142)" d="M474.2 139.8 Q479.0 146.3 483.8 139.8"/></g>
<g fill="#f4f9fd" stroke="#b7dcf3" stroke-width="3.6" stroke-linejoin="round" stroke-linecap="round"><path d="M409.0 186.0 Q408.7 182.5 410.4 179.5 L413.5 174.2 Q415.2 171.2 418.4 172.6 L429.3 177.3 Q432.5 178.7 432.8 182.2 L434.2 200.2 Q434.5 203.7 432.8 206.7 L429.7 212.0 Q428.0 215.0 424.8 213.6 L413.9 208.9 Q410.7 207.5 410.4 204.0 Z"/><path fill="none" stroke="#bfe0f4" stroke-width="2.4" d="M408.7 182.5 L426.0 190.0 L432.5 178.7 M426.0 190.0 L428.0 215.0"/><path fill="none" stroke-width="2.2" d="M417.2 181.1 Q421.3 184.7 424.0 180.1"/></g>
<g fill="#f4f9fd" stroke="#b7dcf3" stroke-width="3.6" stroke-linejoin="round" stroke-linecap="round"><path d="M465.7 210.5 Q466.0 207.0 468.9 205.0 L482.1 196.0 Q485.0 194.0 488.1 195.6 L503.9 203.4 Q507.0 205.0 506.7 208.5 L505.3 223.5 Q505.0 227.0 502.1 229.0 L488.9 238.0 Q486.0 240.0 482.9 238.4 L467.1 230.6 Q464.0 229.0 464.3 225.5 Z"/><path fill="none" stroke="#bfe0f4" stroke-width="2.4" d="M466.0 207.0 L488.0 218.0 L507.0 205.0 M488.0 218.0 L486.0 240.0"/><path fill="none" stroke-width="2.2" d="M482.6 206.2 Q486.7 210.6 490.4 205.8"/></g>
<g fill="#f4f9fd" stroke="#b7dcf3" stroke-width="3.6" stroke-linejoin="round" stroke-linecap="round"><path d="M485.4 183.4 Q486.0 180.0 488.6 177.7 L503.4 165.0 Q506.0 162.7 509.1 164.4 L531.9 177.0 Q535.0 178.7 534.4 182.1 L532.6 191.3 Q532.0 194.7 529.4 197.0 L514.6 209.7 Q512.0 212.0 508.9 210.3 L486.1 197.7 Q483.0 196.0 483.6 192.6 Z"/><path fill="none" stroke="#bfe0f4" stroke-width="2.4" d="M486.0 180.0 L515.0 196.0 L535.0 178.7 M515.0 196.0 L512.0 212.0"/><path fill="none" stroke-width="2.2" d="M505.1 179.5 Q510.7 185.9 515.9 179.2"/></g>
<g fill="#f4f9fd" stroke="#b7dcf3" stroke-width="3.6" stroke-linejoin="round" stroke-linecap="round"><path d="M581.3 137.6 Q581.1 134.1 584.2 132.5 L605.1 121.3 Q608.2 119.7 610.7 122.2 L625.8 137.7 Q628.3 140.2 628.5 143.7 L628.7 150.4 Q628.9 153.9 625.8 155.5 L604.9 166.7 Q601.8 168.3 599.3 165.8 L584.2 150.3 Q581.7 147.8 581.5 144.3 Z"/><path fill="none" stroke="#bfe0f4" stroke-width="2.4" d="M581.1 134.1 L601.2 154.6 L628.3 140.2 M601.2 154.6 L601.8 168.3"/><path fill="none" stroke-width="2.2" d="M599.3 136.5 Q603.9 143.6 610.1 137.8"/></g>
<g fill="#f4f9fd" stroke="#b7dcf3" stroke-width="3.6" stroke-linejoin="round" stroke-linecap="round"><path d="M646.8 121.6 Q643.7 120.0 640.7 121.9 L627.7 130.1 Q624.7 132.0 625.1 135.5 L627.6 154.5 Q628.0 158.0 631.1 159.6 L645.9 167.4 Q649.0 169.0 652.0 167.1 L665.0 158.9 Q668.0 157.0 667.6 153.5 L665.1 134.5 Q664.7 131.0 661.6 129.4 Z"/><path fill="none" stroke="#bfe0f4" stroke-width="2.4" d="M643.7 120.0 L647.0 146.0 L628.0 158.0 M647.0 146.0 L668.0 157.0"/></g>
<g fill="#f4f9fd" stroke="#b7dcf3" stroke-width="3.6" stroke-linejoin="round" stroke-linecap="round"><path d="M674.0 129.3 Q675.0 126.0 678.5 125.9 L702.5 125.1 Q706.0 125.0 707.1 128.3 L710.9 139.2 Q712.0 142.5 711.8 146.0 L711.7 148.0 Q711.5 151.5 708.0 151.5 L674.0 151.5 Q670.5 151.5 670.3 148.0 L670.2 146.0 Q670.0 142.5 671.0 139.2 Z"/><path fill="none" stroke="#bfe0f4" stroke-width="2.4" d="M670.0 142.5 L712.0 142.5 "/><path fill="none" stroke-width="2.2" transform="rotate(0 692 134.5)" d="M687.2 132.3 Q692.0 138.8 696.8 132.3"/></g>
<g fill="#f4f9fd" stroke="#b7dcf3" stroke-width="3.6" stroke-linejoin="round" stroke-linecap="round"><path d="M715.3 129.5 Q715.0 126.0 718.5 125.6 L745.0 122.4 Q748.5 122.0 749.5 125.3 L755.0 142.7 Q756.0 146.0 756.3 149.5 L758.2 167.5 Q758.5 171.0 755.0 171.4 L728.5 174.6 Q725.0 175.0 724.0 171.7 L718.5 154.3 Q717.5 151.0 717.2 147.5 Z"/><path fill="none" stroke="#bfe0f4" stroke-width="2.4" d="M715.0 126.0 L722.5 150.0 L756.0 146.0 M722.5 150.0 L725.0 175.0"/><path fill="none" stroke-width="2.2" d="M730.6 133.6 Q732.6 141.9 740.4 138.4"/></g>
<g fill="#f4f9fd" stroke="#b7dcf3" stroke-width="3.6" stroke-linejoin="round" stroke-linecap="round"><path d="M572.1 172.0 Q572.0 168.5 574.9 166.6 L590.1 156.4 Q593.0 154.5 595.6 156.8 L613.4 172.2 Q616.0 174.5 616.1 178.0 L616.9 197.5 Q617.0 201.0 614.1 202.9 L598.9 213.1 Q596.0 215.0 593.4 212.7 L575.6 197.3 Q573.0 195.0 572.9 191.5 Z"/><path fill="none" stroke="#bfe0f4" stroke-width="2.4" d="M572.0 168.5 L595.0 188.5 L616.0 174.5 M595.0 188.5 L596.0 215.0"/><path fill="none" stroke-width="2.2" d="M588.6 170.8 Q593.1 178.0 599.4 172.2"/></g>
<g fill="#f4f9fd" stroke="#b7dcf3" stroke-width="3.6" stroke-linejoin="round" stroke-linecap="round"><path d="M407.2 233.4 Q408.0 230.0 409.7 227.0 L419.3 210.0 Q421.0 207.0 424.0 208.9 L442.0 220.1 Q445.0 222.0 444.2 225.4 L441.8 235.6 Q441.0 239.0 439.3 242.0 L429.7 259.0 Q428.0 262.0 425.0 260.1 L407.0 248.9 Q404.0 247.0 404.8 243.6 Z"/><path fill="none" stroke="#bfe0f4" stroke-width="2.4" d="M408.0 230.0 L432.0 245.0 L445.0 222.0 M432.0 245.0 L428.0 262.0"/><path fill="none" stroke-width="2.2" d="M421.2 227.1 Q427.9 232.4 431.8 224.9"/></g>
<g fill="#f4f9fd" stroke="#b7dcf3" stroke-width="3.6" stroke-linejoin="round" stroke-linecap="round"><path d="M444.6 253.2 Q446.0 250.0 447.9 247.1 L456.1 234.9 Q458.0 232.0 461.3 233.2 L476.7 238.8 Q480.0 240.0 478.6 243.2 L475.4 250.8 Q474.0 254.0 472.1 256.9 L463.9 269.1 Q462.0 272.0 458.7 270.8 L443.3 265.2 Q440.0 264.0 441.4 260.8 Z"/><path fill="none" stroke="#bfe0f4" stroke-width="2.4" d="M446.0 250.0 L468.0 258.0 L480.0 240.0 M468.0 258.0 L462.0 272.0"/><path fill="none" stroke-width="2.2" d="M458.7 246.3 Q464.5 250.1 467.3 243.7"/></g>
<g fill="#f4f9fd" stroke="#b7dcf3" stroke-width="3.6" stroke-linejoin="round" stroke-linecap="round"><path d="M418.8 269.3 Q420.0 266.0 423.4 265.1 L448.6 258.4 Q452.0 257.5 453.8 260.5 L464.2 278.0 Q466.0 281.0 464.8 284.3 L461.2 294.2 Q460.0 297.5 456.6 298.4 L431.4 305.1 Q428.0 306.0 426.2 303.0 L415.8 285.5 Q414.0 282.5 415.2 279.2 Z"/><path fill="none" stroke="#bfe0f4" stroke-width="2.4" d="M420.0 266.0 L434.0 289.5 L466.0 281.0 M434.0 289.5 L428.0 306.0"/><path fill="none" stroke-width="2.2" d="M437.8 271.8 Q441.0 279.7 448.2 275.2"/></g>
<g fill="#f4f9fd" stroke="#b7dcf3" stroke-width="3.6" stroke-linejoin="round" stroke-linecap="round"><path d="M416.1 325.5 Q416.0 322.0 418.8 319.9 L435.2 308.1 Q438.0 306.0 441.0 307.8 L461.0 320.2 Q464.0 322.0 464.1 325.5 L464.4 337.5 Q464.5 341.0 461.7 343.1 L445.3 354.9 Q442.5 357.0 439.5 355.2 L419.5 342.8 Q416.5 341.0 416.4 337.5 Z"/><path fill="none" stroke="#bfe0f4" stroke-width="2.4" d="M416.0 322.0 L442.0 338.0 L464.0 322.0 M442.0 338.0 L442.5 357.0"/><path fill="none" stroke-width="2.2" d="M434.8 322.0 Q440.0 328.2 445.2 322.0"/></g>
<g fill="#f4f9fd" stroke="#b7dcf3" stroke-width="3.6" stroke-linejoin="round" stroke-linecap="round"><path d="M452.4 356.8 Q449.0 356.0 446.0 357.8 L423.5 370.7 Q420.5 372.5 420.9 376.0 L423.6 396.5 Q424.0 400.0 427.4 400.8 L440.1 403.7 Q443.5 404.5 446.5 402.7 L469.0 389.8 Q472.0 388.0 471.6 384.5 L468.9 364.0 Q468.5 360.5 465.1 359.7 Z"/><path fill="none" stroke="#bfe0f4" stroke-width="2.4" d="M449.0 356.0 L452.5 383.5 L424.0 400.0 M452.5 383.5 L472.0 388.0"/><path fill="none" stroke-width="2.2" d="M439.2 373.3 Q442.1 381.2 433.8 382.7"/></g>
<g fill="#f4f9fd" stroke="#b7dcf3" stroke-width="3.6" stroke-linejoin="round" stroke-linecap="round"><path d="M679.0 235.5 Q678.7 232.0 681.8 230.3 L703.3 218.7 Q706.4 217.0 709.2 219.0 L725.9 231.0 Q728.7 233.0 729.0 236.5 L729.9 247.5 Q730.2 251.0 727.1 252.7 L705.6 264.3 Q702.5 266.0 699.7 264.0 L683.0 252.0 Q680.2 250.0 679.9 246.5 Z"/><path fill="none" stroke="#bfe0f4" stroke-width="2.4" d="M678.7 232.0 L701.0 248.0 L728.7 233.0 M701.0 248.0 L702.5 266.0"/><path fill="none" stroke-width="2.2" d="M698.7 232.4 Q703.6 238.5 708.7 232.6"/></g>
<g fill="#f4f9fd" stroke="#b7dcf3" stroke-width="3.6" stroke-linejoin="round" stroke-linecap="round"><path d="M709.0 288.0 Q708.7 284.5 711.3 282.1 L725.1 269.4 Q727.7 267.0 731.0 268.1 L746.7 273.4 Q750.0 274.5 750.3 278.0 L751.2 289.0 Q751.5 292.5 748.9 294.9 L735.1 307.6 Q732.5 310.0 729.2 308.9 L713.5 303.6 Q710.2 302.5 709.9 299.0 Z"/><path fill="none" stroke="#bfe0f4" stroke-width="2.4" d="M708.7 284.5 L731.0 292.0 L750.0 274.5 M731.0 292.0 L732.5 310.0"/><path fill="none" stroke-width="2.2" d="M725.4 280.4 Q730.5 284.2 733.3 278.6"/></g>
<g fill="#f4f9fd" stroke="#b7dcf3" stroke-width="3.6" stroke-linejoin="round" stroke-linecap="round"><path d="M713.7 324.3 Q715.0 321.0 718.5 320.6 L735.0 318.7 Q738.5 318.3 739.6 321.6 L744.9 338.7 Q746.0 342.0 744.7 345.3 L740.8 355.0 Q739.5 358.3 736.0 358.7 L719.5 360.6 Q716.0 361.0 714.9 357.7 L709.6 340.6 Q708.5 337.3 709.8 334.0 Z"/><path fill="none" stroke="#bfe0f4" stroke-width="2.4" d="M715.0 321.0 L722.5 344.7 L746.0 342.0 M722.5 344.7 L716.0 361.0"/><path fill="none" stroke-width="2.2" d="M726.4 328.7 Q727.2 336.4 734.6 334.3"/></g>
<g fill="#f4f9fd" stroke="#b7dcf3" stroke-width="3.6" stroke-linejoin="round" stroke-linecap="round"><path d="M720.8 369.4 Q720.0 366.0 723.0 364.2 L735.0 356.8 Q738.0 355.0 739.0 358.4 L743.0 372.6 Q744.0 376.0 744.8 379.4 L747.2 390.6 Q748.0 394.0 745.0 395.8 L733.0 403.2 Q730.0 405.0 729.0 401.6 L725.0 387.4 Q724.0 384.0 723.2 380.6 Z"/><path fill="none" stroke="#bfe0f4" stroke-width="2.4" d="M720.0 366.0 L726.0 387.0 L744.0 376.0 M726.0 387.0 L730.0 405.0"/><path fill="none" stroke-width="2.2" d="M728.2 369.4 Q730.1 375.6 735.8 372.6"/></g>
<g fill="#f4f9fd" stroke="#b7dcf3" stroke-width="3.6" stroke-linejoin="round" stroke-linecap="round"><path d="M678.9 348.3 Q680.0 345.0 683.5 344.6 L707.8 341.4 Q711.3 341.0 712.5 344.3 L718.8 362.7 Q720.0 366.0 718.9 369.3 L714.9 381.2 Q713.8 384.5 710.3 384.9 L686.0 388.1 Q682.5 388.5 681.3 385.2 L675.0 366.8 Q673.8 363.5 674.9 360.2 Z"/><path fill="none" stroke="#bfe0f4" stroke-width="2.4" d="M680.0 345.0 L688.7 370.0 L720.0 366.0 M688.7 370.0 L682.5 388.5"/><path fill="none" stroke-width="2.2" d="M695.2 353.0 Q697.0 361.3 704.8 358.0"/></g>
<g fill="#f4f9fd" stroke="#b7dcf3" stroke-width="3.6" stroke-linejoin="round" stroke-linecap="round"><path d="M719.8 195.5 Q720.0 192.0 722.9 190.1 L734.1 182.9 Q737.0 181.0 739.6 183.3 L749.4 191.7 Q752.0 194.0 751.8 197.5 L751.2 207.5 Q751.0 211.0 748.1 212.9 L736.9 220.1 Q734.0 222.0 731.4 219.7 L721.6 211.3 Q719.0 209.0 719.2 205.5 Z"/><path fill="none" stroke="#bfe0f4" stroke-width="2.4" d="M720.0 192.0 L735.0 205.0 L752.0 194.0 M735.0 205.0 L734.0 222.0"/><path fill="none" stroke-width="2.2" d="M732.2 192.8 Q735.7 197.6 739.8 193.2"/></g>
<path d="M540 191.5 Q529 196 520.5 202 Q509 211.5 500.5 224 Q493 234 488.5 243 Q483 253 480 263 Q475 278 473.8 292 Q472.6 310 474.2 328 Q475.5 340 477 347 L472.2 359.2 Q480 364 490 368.3 Q505 375.5 529 382 Q550 387 580 388 Q605 386 628.5 378 Q650 369 663 362 Q675 354 681.5 345 L685.5 336.5 L679.5 330.5 Q680.5 318 681.5 300 Q681.5 278 662 247 Q654.5 234.5 644 222.5 Q630.5 210 608.5 200.5 Q585 193.5 558 192.5 Z" fill="#dcecf8" stroke="#2a7ac4" stroke-width="5" stroke-linejoin="round"/>
<path d="M509.5 129.5 Q509 140 512 150 Q516 162 524 171 Q532 180 541 187 L559 187 Q563 181 567 175.5 Q575 165 580 156 Q584 148 585.5 140.5 Q578 136 573.5 132 Q573 128 571 125.5 Q566 120.5 552 119.5 Q540 120 520 127 Z" fill="#e4f0fa" stroke="#2a7ac4" stroke-width="4.6" stroke-linejoin="round"/>
<path d="M510 129 Q520 124.5 533 123.5 Q538 124.5 535.5 127 Q530 131.5 520 132.5 Q513 132.5 510 129 Z" fill="#f6fbfe" stroke="#2a7ac4" stroke-width="2.2" stroke-linejoin="round"/>
<path d="M571 128 Q570.8 140 569.5 150 Q567 164 562 181" fill="none" stroke="#2a7ac4" stroke-width="2.2" stroke-linecap="round" stroke-linejoin="round"/>
<path d="M527.8 143.5 Q533 162 545 182" fill="none" stroke="#2a7ac4" stroke-width="2.2" stroke-linecap="round" stroke-linejoin="round"/>
<path d="M548 170 Q548.5 160 551 153.5 Q553.5 149.5 554.3 153 Q554.5 162 552.5 172 L551 184" fill="none" stroke="#2a7ac4" stroke-width="2.2" stroke-linecap="round" stroke-linejoin="round"/>
<path d="M541.5 186.5 Q538 190 541.5 193.5 Q550 197 558.5 193.5 Q562 190 558.5 186.5 Q550 183.5 541.5 186.5 Z" fill="#f6fbfe" stroke="#2a7ac4" stroke-width="3" stroke-linejoin="round"/>
<path d="M543 198.5 L536 208" fill="none" stroke="#2a7ac4" stroke-width="2.4" stroke-linecap="round" stroke-linejoin="round"/>
<path d="M546.5 200 L540.5 214" fill="none" stroke="#2a7ac4" stroke-width="2.4" stroke-linecap="round" stroke-linejoin="round"/>
<path d="M558 196.5 L577 201.5" fill="none" stroke="#2a7ac4" stroke-width="2.4" stroke-linecap="round" stroke-linejoin="round"/>
<path d="M560 199 L578.5 209.5" fill="none" stroke="#2a7ac4" stroke-width="2.4" stroke-linecap="round" stroke-linejoin="round"/>
<path d="M484.5 356 C500 346.5 520 340.5 545 337.5 C580 333 625 332.5 671 336.8 Q662 349 651 356 Q634 369 610 374 Q585 379.5 560 378 Q535 374 512 366 Q497 361 484.5 356 Z" fill="#a3bbe2"/>
<path d="M491 340.5 L483 351.2 L501.7 339.7" fill="none" stroke="#2a7ac4" stroke-width="2.6" stroke-linecap="round" stroke-linejoin="round"/>
<path d="M646.5 344.5 L672 334.5 L658.5 333" fill="none" stroke="#2a7ac4" stroke-width="2.6" stroke-linecap="round" stroke-linejoin="round"/>
<path d="M506.8 250 Q497 270 492.5 290 Q489.5 305 489 321.5" fill="none" stroke="#f6fbfe" stroke-width="5.6" stroke-linecap="round"/>
<circle cx="510.6" cy="244.6" r="3.1" fill="#f8fcff"/>
<g transform="translate(381.8,97.2) translate(150,125) scale(1.004,1.012) translate(-150,-125)"><path d="M159 160.3 L148.5 160.8 Q146 161 146 164.5 Q146 168 148.5 168 L159 168.3 Z" fill="#f0959e" stroke="#e5334b" stroke-width="3.6" stroke-linejoin="round" stroke-linecap="round" />
<path d="M160 178 L145.5 184.2 Q142.8 185.5 144 188 Q145 190.3 147.5 189.8 L159 187.5 Z" fill="#f0959e" stroke="#e5334b" stroke-width="3.6" stroke-linejoin="round" stroke-linecap="round" />
<path d="M158 188.2 L148 190.8 Q145.3 191.8 146 194 Q146.8 196.5 149.5 196.2 L158 195 Z" fill="#f0959e" stroke="#e5334b" stroke-width="3.6" stroke-linejoin="round" stroke-linecap="round" />
<path d="M168 143 L160.8 129.5 Q159.3 126 163.3 124 Q167 122.6 169.5 125.5 L179 136 Z" fill="#ed838d" stroke="#e5334b" stroke-width="3.6" stroke-linejoin="round" stroke-linecap="round" />
<path d="M158.5 158 L147.6 138.5 Q145.5 133.5 149.5 131.5 Q153.5 129.8 156 133.5 L164.6 144.8 L178 135 Q189 129.5 199 126.8 Q204.5 126 206.3 129.5 Q207.6 133.5 203.5 136 L201.5 144.8 Q210 148.5 217.5 151.5 Q224 150.2 230.5 152 Q237.5 154.5 239.5 160 Q240.5 165.5 236.5 170 L233.5 185.5 Q243 190.5 249.5 201 Q256.5 214 255.8 229 Q255 246 246 255.5 Q239 261.5 226 261.8 Q204 263 188 259 Q180.5 256.8 175.3 253 L175.3 263.5 Q175 267.2 170 267.2 Q164.5 267.2 164.3 263.5 L164.3 249.5 Q158.5 241 155.6 230 Q152.6 215 154.8 200 Q157.5 192 159 185 Z" fill="#ed838d" stroke="#e5334b" stroke-width="3.6" stroke-linejoin="round" stroke-linecap="round" />
<path d="M175.3 253 Q172.5 250.5 171 246.8" fill="none" stroke="#e5334b" stroke-width="3.6" stroke-linejoin="round" stroke-linecap="round"/>
<path d="M226.2 176.4 L240.5 174.3 Q244 174.2 244 178.6 Q244 182.8 240.5 183 L226.2 183.8 Z" fill="#f0959e" stroke="#e5334b" stroke-width="3.6" stroke-linejoin="round" stroke-linecap="round" />
<path d="M203.5 136 Q190 140 180.5 146.5 Q172 153 169.5 163 Q167.5 172 169.5 181.5 Q170.5 184.5 174 184.3 Q177.5 184 179 187.5 L182 195.5" fill="none" stroke="#e5334b" stroke-width="3.6" stroke-linejoin="round" stroke-linecap="round"/>
<path d="M182.2 146 L184.6 151.8 L186.2 144.5 Z" fill="none" stroke="#e5334b" stroke-width="2.6" stroke-linejoin="round" stroke-linecap="round"/>
<path d="M192.8 141.8 L193.8 149" fill="none" stroke="#e5334b" stroke-width="3.2" stroke-linejoin="round" stroke-linecap="round"/>
<path d="M199.6 138.5 L198.3 146" fill="none" stroke="#e5334b" stroke-width="2.6" stroke-linejoin="round" stroke-linecap="round"/>
<path d="M187.5 194.5 Q186 183 185.5 174 Q186 166 190 160.5 Q192 158.5 194 160 Q197 162.2 201 161 Q209 157 214 154.5 Q222 153.8 229 155 Q233.5 156.5 235.5 160" fill="none" stroke="#e5334b" stroke-width="3.6" stroke-linejoin="round" stroke-linecap="round"/>
<path d="M201.5 190.5 Q202 178 204.5 171.5 Q207 167 213 164.5 Q222 161.5 230 163 Q235 164.5 236.5 169.5" fill="none" stroke="#e5334b" stroke-width="3.6" stroke-linejoin="round" stroke-linecap="round"/>
<path d="M205 171 Q210 167 216 168.3 Q223 170.5 225.2 177" fill="none" stroke="#e5334b" stroke-width="3.6" stroke-linejoin="round" stroke-linecap="round"/></g>
<g fill="#f4f9fd" stroke="#b7dcf3" stroke-width="3.6" stroke-linejoin="round" stroke-linecap="round"><path d="M466.6 210.5 Q466.4 207.0 469.6 205.6 L489.4 197.2 Q492.6 195.8 495.5 197.8 L510.8 208.0 Q513.7 210.0 513.9 213.5 L514.5 226.6 Q514.7 230.1 511.5 231.5 L491.7 239.9 Q488.5 241.3 485.6 239.3 L470.3 229.1 Q467.4 227.1 467.2 223.6 Z"/><path fill="none" stroke="#bfe0f4" stroke-width="2.4" d="M466.4 207.0 L487.5 221.2 L513.7 210.0 M487.5 221.2 L488.5 241.3"/><path fill="none" stroke-width="2.2" d="M485.9 208.2 Q489.7 213.5 494.2 208.8"/><path fill="none" stroke="#d5dbe0" stroke-width="2.6" d="M493.6 233.2 L508.6 215.1"/></g>
<g fill="#f4f9fd" stroke="#b7dcf3" stroke-width="3.6" stroke-linejoin="round" stroke-linecap="round"><path d="M660.7 254.0 Q662.5 251.0 666.0 250.6 L684.0 248.4 Q687.5 248.0 689.1 251.1 L700.9 274.9 Q702.5 278.0 700.7 281.0 L693.8 292.0 Q692.0 295.0 688.5 295.4 L670.5 297.6 Q667.0 298.0 665.4 294.9 L653.6 271.1 Q652.0 268.0 653.8 265.0 Z"/><path fill="none" stroke="#bfe0f4" stroke-width="2.4" d="M662.5 251.0 L677.5 281.0 L702.5 278.0 M677.5 281.0 L667.0 298.0"/><path fill="none" stroke-width="2.2" d="M678.0 261.5 Q678.8 269.9 687.0 267.5"/><path fill="none" stroke="#d5dbe0" stroke-width="2.6" d="M667.5 254.5 L679.0 285.0"/></g>
<g fill="#f4f9fd" stroke="#b7dcf3" stroke-width="3.6" stroke-linejoin="round" stroke-linecap="round"><path d="M476.3 384.5 Q476.0 381.0 479.0 379.3 L499.2 367.7 Q502.2 366.0 505.2 367.7 L525.7 379.3 Q528.7 381.0 529.0 384.5 L529.6 393.5 Q529.9 397.0 526.9 398.7 L506.7 410.3 Q503.7 412.0 500.7 410.3 L480.2 398.7 Q477.2 397.0 476.9 393.5 Z"/><path fill="none" stroke="#bfe0f4" stroke-width="2.4" d="M476.0 381.0 L502.5 396.0 L528.7 381.0 M502.5 396.0 L503.7 412.0"/><path fill="none" stroke-width="2.2" d="M497.5 381.0 Q502.4 386.8 507.2 381.0"/><path fill="none" stroke="#d5dbe0" stroke-width="2.6" d="M495.0 372.0 L517.5 378.5"/></g>
<g fill="#f4f9fd" stroke="#b7dcf3" stroke-width="3.6" stroke-linejoin="round" stroke-linecap="round"><path d="M635.3 368.1 Q636.2 364.7 639.7 364.6 L664.0 363.6 Q667.5 363.5 668.0 367.0 L672.0 392.5 Q672.5 396.0 672.5 399.5 L672.5 410.5 Q672.5 414.0 669.0 414.0 L632.5 414.0 Q629.0 414.0 628.9 410.5 L628.8 397.0 Q628.7 393.5 629.6 390.1 Z"/><path fill="none" stroke="#bfe0f4" stroke-width="2.4" d="M628.7 393.5 L672.5 396.0 "/><path fill="none" stroke-width="2.2" transform="rotate(5 652.5 380.5)" d="M648.0 378.5 Q652.5 384.6 657.0 378.5"/><path fill="none" stroke="#d5dbe0" stroke-width="2.6" d="M639.0 373.5 L650.0 370.0"/></g>
</g>
<text x="556.6" y="331.6" font-size="32.3" font-weight="500" fill="#fff" font-family='"Liberation Sans","Noto Sans CJK JP",sans-serif' textLength="65" lengthAdjust="spacingAndGlyphs">心臓</text>
<path d="M394.4 113 L416 399.2 A12.5 12.5 0 0 0 428.5 411.7 H731.6 A12.5 12.5 0 0 0 744.1 399.2 L766.6 113" fill="none" stroke="#0650ab" stroke-width="3.9"/>
<path d="M385.9 114.9 V76 A15.2 15.2 0 0 1 401.1 60.8 H760.1 A15.2 15.2 0 0 1 775.3 76 V114.9 Z" fill="#0650ab"/>
<text x="456.6" y="101.2" font-size="32.8" font-weight="700" fill="#fff" font-family='"Liberation Sans","Noto Sans CJK JP",sans-serif' textLength="248" lengthAdjust="spacingAndGlyphs" stroke="#fff" stroke-width="0.5" stroke-linejoin="round">クーラーボックス</text>
<text x="448.4" y="190.8" font-size="34.5" font-weight="400" fill="#231815" font-family='"Liberation Sans","Noto Sans CJK JP",sans-serif' stroke="#fff" stroke-width="5" stroke-linejoin="round" paint-order="stroke">氷</text>
<text x="632.6" y="187.2" font-size="34" font-weight="400" fill="#231815" font-family='"Liberation Sans","Noto Sans CJK JP",sans-serif' textLength="103" lengthAdjust="spacingAndGlyphs" stroke="#fff" stroke-width="4" stroke-linejoin="round" paint-order="stroke">保存液</text>
<path d="M651.9 196 V210 L630.8 231.6" fill="none" stroke="#231815" stroke-width="1.5"/>
<g id="h1"><path d="M159 160.3 L148.5 160.8 Q146 161 146 164.5 Q146 168 148.5 168 L159 168.3 Z" fill="#f0959e" stroke="#e5334b" stroke-width="3.6" stroke-linejoin="round" stroke-linecap="round" />
<path d="M160 178 L145.5 184.2 Q142.8 185.5 144 188 Q145 190.3 147.5 189.8 L159 187.5 Z" fill="#f0959e" stroke="#e5334b" stroke-width="3.6" stroke-linejoin="round" stroke-linecap="round" />
<path d="M158 188.2 L148 190.8 Q145.3 191.8 146 194 Q146.8 196.5 149.5 196.2 L158 195 Z" fill="#f0959e" stroke="#e5334b" stroke-width="3.6" stroke-linejoin="round" stroke-linecap="round" />
<path d="M168 143 L160.8 129.5 Q159.3 126 163.3 124 Q167 122.6 169.5 125.5 L179 136 Z" fill="#ed838d" stroke="#e5334b" stroke-width="3.6" stroke-linejoin="round" stroke-linecap="round" />
<path d="M158.5 158 L147.6 138.5 Q145.5 133.5 149.5 131.5 Q153.5 129.8 156 133.5 L164.6 144.8 L178 135 Q189 129.5 199 126.8 Q204.5 126 206.3 129.5 Q207.6 133.5 203.5 136 L201.5 144.8 Q210 148.5 217.5 151.5 Q224 150.2 230.5 152 Q237.5 154.5 239.5 160 Q240.5 165.5 236.5 170 L233.5 185.5 Q243 190.5 249.5 201 Q256.5 214 255.8 229 Q255 246 246 255.5 Q239 261.5 226 261.8 Q204 263 188 259 Q180.5 256.8 175.3 253 L175.3 263.5 Q175 267.2 170 267.2 Q164.5 267.2 164.3 263.5 L164.3 249.5 Q158.5 241 155.6 230 Q152.6 215 154.8 200 Q157.5 192 159 185 Z" fill="#ed838d" stroke="#e5334b" stroke-width="3.6" stroke-linejoin="round" stroke-linecap="round" />
<path d="M175.3 253 Q172.5 250.5 171 246.8" fill="none" stroke="#e5334b" stroke-width="3.6" stroke-linejoin="round" stroke-linecap="round"/>
<path d="M226.2 176.4 L240.5 174.3 Q244 174.2 244 178.6 Q244 182.8 240.5 183 L226.2 183.8 Z" fill="#f0959e" stroke="#e5334b" stroke-width="3.6" stroke-linejoin="round" stroke-linecap="round" />
<path d="M203.5 136 Q190 140 180.5 146.5 Q172 153 169.5 163 Q167.5 172 169.5 181.5 Q170.5 184.5 174 184.3 Q177.5 184 179 187.5 L182 195.5" fill="none" stroke="#e5334b" stroke-width="3.6" stroke-linejoin="round" stroke-linecap="round"/>
<path d="M182.2 146 L184.6 151.8 L186.2 144.5 Z" fill="none" stroke="#e5334b" stroke-width="2.6" stroke-linejoin="round" stroke-linecap="round"/>
<path d="M192.8 141.8 L193.8 149" fill="none" stroke="#e5334b" stroke-width="3.2" stroke-linejoin="round" stroke-linecap="round"/>
<path d="M199.6 138.5 L198.3 146" fill="none" stroke="#e5334b" stroke-width="2.6" stroke-linejoin="round" stroke-linecap="round"/>
<path d="M187.5 194.5 Q186 183 185.5 174 Q186 166 190 160.5 Q192 158.5 194 160 Q197 162.2 201 161 Q209 157 214 154.5 Q222 153.8 229 155 Q233.5 156.5 235.5 160" fill="none" stroke="#e5334b" stroke-width="3.6" stroke-linejoin="round" stroke-linecap="round"/>
<path d="M201.5 190.5 Q202 178 204.5 171.5 Q207 167 213 164.5 Q222 161.5 230 163 Q235 164.5 236.5 169.5" fill="none" stroke="#e5334b" stroke-width="3.6" stroke-linejoin="round" stroke-linecap="round"/>
<path d="M205 171 Q210 167 216 168.3 Q223 170.5 225.2 177" fill="none" stroke="#e5334b" stroke-width="3.6" stroke-linejoin="round" stroke-linecap="round"/></g>
<text x="172.3" y="234.6" font-size="32.3" font-weight="500" fill="#fff" font-family='"Liberation Sans","Noto Sans CJK JP",sans-serif' textLength="65" lengthAdjust="spacingAndGlyphs" >心臓</text>
</svg>
</body></html>
